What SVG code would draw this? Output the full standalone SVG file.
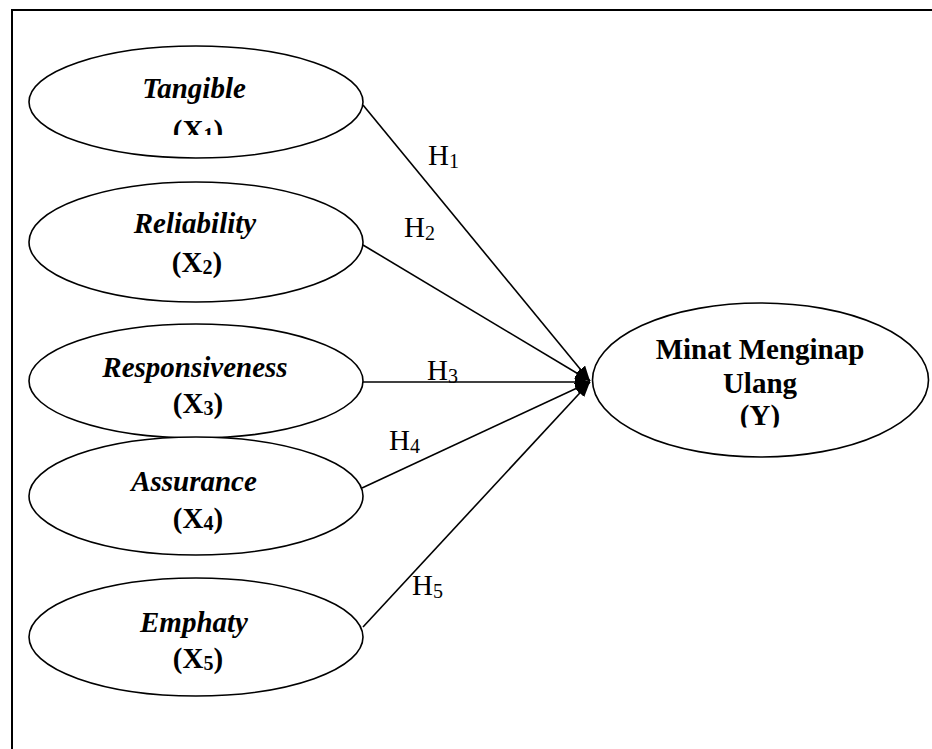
<svg xmlns="http://www.w3.org/2000/svg" width="932" height="749" viewBox="0 0 932 749">
  <style>
    .node { fill: #fff; stroke: #000; stroke-width: 1.6; }
    .name { font-family: "Liberation Serif", "Times New Roman", serif; font-size: 29px; font-weight: bold; font-style: italic; text-anchor: middle; fill: #000; }
    .var { font-family: "Liberation Serif", "Times New Roman", serif; font-size: 29px; font-weight: bold; text-anchor: middle; fill: #000; }
    .sub { font-size: 20px; }
    .hyp { font-family: "Liberation Serif", "Times New Roman", serif; font-size: 29px; fill: #000; }
    .edge { stroke: #000; stroke-width: 1.6; fill: none; marker-end: url(#head); }
    .frame { stroke: #000; stroke-width: 2; fill: none; }
  </style>
  <defs>
    <marker id="head" markerUnits="userSpaceOnUse" markerWidth="16" markerHeight="12" refX="15" refY="6" orient="auto">
      <path d="M0,0 L15,6 L0,12 Z" fill="#000"/>
    </marker>
    <clipPath id="clipX1"><rect x="0" y="0" width="400" height="135"/></clipPath>
    <clipPath id="clipY"><rect x="580" y="290" width="352" height="137.5"/></clipPath>
  </defs>

  <rect width="932" height="749" fill="#fff"/>

  <!-- outer frame: top and left edges -->
  <path class="frame" d="M12,749 L12,10 L932,10"/>

  <!-- connectors -->
  <g id="connectors">
    <line class="edge" x1="363" y1="105" x2="590" y2="381"/>
    <line class="edge" x1="363" y1="245" x2="590" y2="381"/>
    <line class="edge" x1="363" y1="382" x2="590" y2="382"/>
    <line class="edge" x1="362" y1="488" x2="590" y2="382"/>
    <line class="edge" x1="363" y1="627" x2="590" y2="382"/>
  </g>

  <!-- hypothesis labels -->
  <g id="labels">
    <text class="hyp" x="428" y="165">H<tspan class="sub" dy="3">1</tspan></text>
    <text class="hyp" x="404" y="237">H<tspan class="sub" dy="3">2</tspan></text>
    <text class="hyp" x="427" y="380">H<tspan class="sub" dy="3">3</tspan></text>
    <text class="hyp" x="389" y="450">H<tspan class="sub" dy="3">4</tspan></text>
    <text class="hyp" x="412" y="595">H<tspan class="sub" dy="3">5</tspan></text>
  </g>

  <g id="x1">
    <ellipse class="node" cx="196" cy="102" rx="167" ry="56"/>
    <text class="name" x="194" y="98">Tangible</text>
    <text class="var" x="198" y="140" clip-path="url(#clipX1)">(X<tspan class="sub" dy="2">1</tspan><tspan dy="-2">)</tspan></text>
  </g>

  <g id="x2">
    <ellipse class="node" cx="196" cy="242" rx="167" ry="60"/>
    <text class="name" x="195" y="233">Reliability</text>
    <text class="var" x="197" y="272">(X<tspan class="sub" dy="2">2</tspan><tspan dy="-2">)</tspan></text>
  </g>

  <g id="x3">
    <ellipse class="node" cx="196" cy="381" rx="167" ry="57"/>
    <text class="name" x="195" y="377">Responsiveness</text>
    <text class="var" x="198" y="413">(X<tspan class="sub" dy="2">3</tspan><tspan dy="-2">)</tspan></text>
  </g>

  <g id="x4">
    <ellipse class="node" cx="196" cy="496" rx="167" ry="59"/>
    <text class="name" x="194" y="491">Assurance</text>
    <text class="var" x="198" y="528">(X<tspan class="sub" dy="2">4</tspan><tspan dy="-2">)</tspan></text>
  </g>

  <g id="x5">
    <ellipse class="node" cx="196" cy="637" rx="167" ry="59"/>
    <text class="name" x="194" y="632">Emphaty</text>
    <text class="var" x="198" y="668">(X<tspan class="sub" dy="2">5</tspan><tspan dy="-2">)</tspan></text>
  </g>

  <g id="y">
    <ellipse class="node" cx="760.5" cy="380" rx="168" ry="77"/>
    <text class="var" x="760" y="359">Minat Menginap</text>
    <text class="var" x="760" y="393">Ulang</text>
    <text class="var" x="760" y="425" clip-path="url(#clipY)">(Y)</text>
  </g>
</svg>
